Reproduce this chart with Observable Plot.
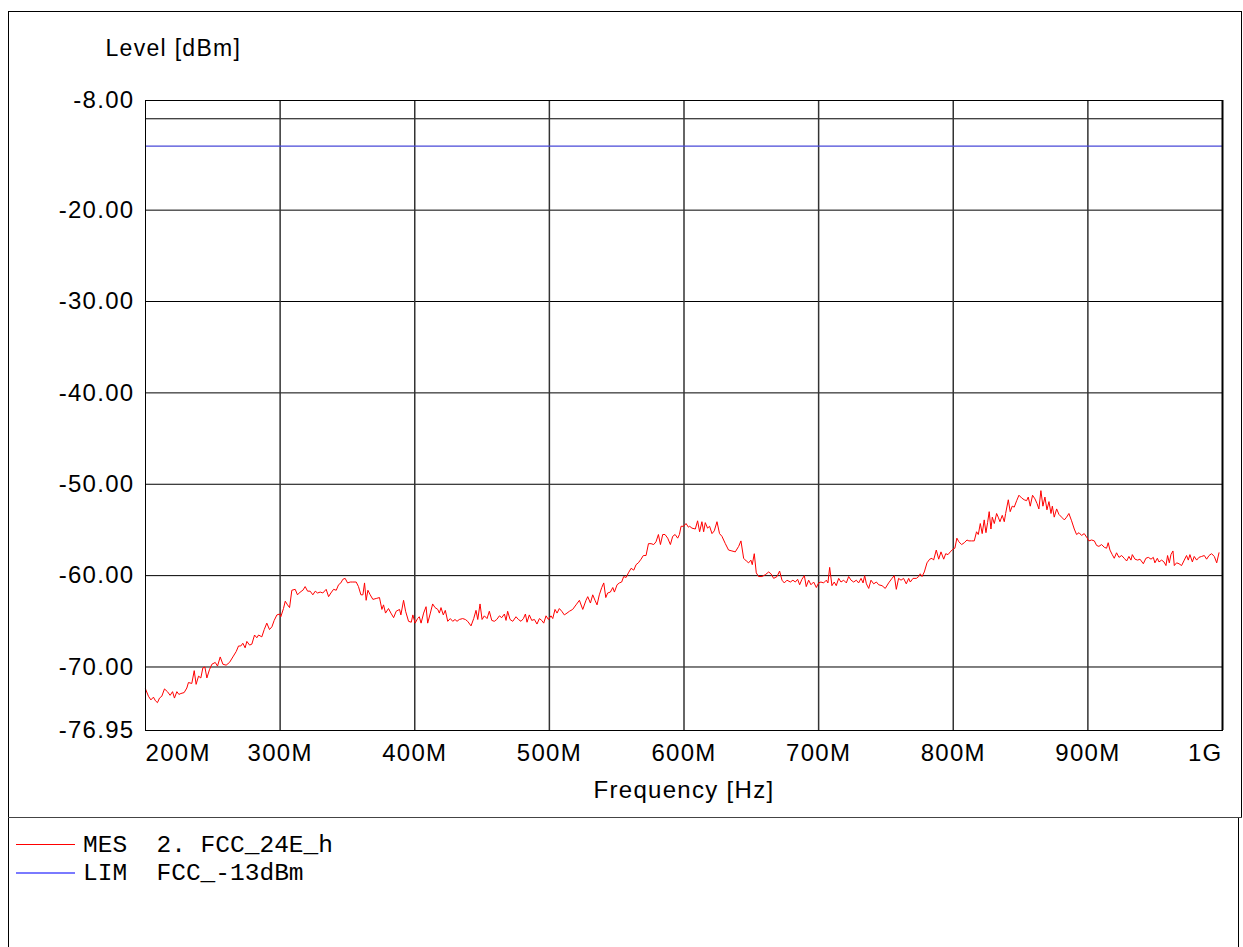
<!DOCTYPE html>
<html>
<head>
<meta charset="utf-8">
<script src="https://cdn.jsdelivr.net/npm/d3@7"></script>
<script src="https://cdn.jsdelivr.net/npm/@observablehq/plot@0.6"></script>
<style>
  html, body { margin: 0; padding: 0; background: #fff; }
  #wrap { position: relative; width: 1243px; height: 947px; overflow: hidden; }
  #chart svg text { letter-spacing: 1.3px; }
  .ln { position: absolute; background: #000; }
  .leg { position: absolute; font-family: "Liberation Mono", "Courier New", monospace; font-size: 24.5px; color: #000; white-space: pre; line-height: 1; }
</style>
</head>
<body>
<div id="wrap">
  <div id="chart"></div>
</div>
<script>
// ---- data (frequency in MHz, level in dBm) ----
const freqMHz = [
200,202.2,204.0,205.9,207.4,208.9,210.4,212.1,214.1,216.3,218.3,220.1,221.5,223.3,224.8,226.3,228.7,230.7,231.9,234.4,
236.2,237.6,239.4,241.1,242.6,244.1,245.6,247.5,249.3,251.8,253.5,255.5,257.5,259.9,262.4,264.9,267.4,269.1,270.8,272.3,
274.0,275.3,277.3,279.0,281.0,282.7,284.0,286.4,288.2,290.1,292.1,293.9,295.6,297.6,299.6,300.5,302.5,303.8,305.5,307.0,
308.7,311.2,312.9,314.9,316.9,318.6,320.4,322.3,324.3,326.1,327.8,329.8,331.7,334.2,336.0,337.7,339.7,341.7,343.4,345.1,
346.6,348.3,350.1,352.1,354.0,356.5,358.2,360.0,361.5,362.7,363.9,365.2,366.9,368.9,371.4,373.8,375.6,376.8,378.3,380.5,
382.3,384.3,386.2,388.7,389.7,391.7,393.2,395.4,397.4,398.6,400.3,402.1,
403.4,404.7,406.6,408.4,409.6,411.6,413.3,415.1,417.1,418.3,419.5,421.2,422.7,424.5,426.4,428.2,429.9,431.4,433.1,435.6,
437.6,439.3,441.8,443.8,445.5,446.8,448.5,450.0,451.7,453.7,455.4,457.2,459.1,460.9,462.9,464.6,466.6,467.8,469.0,470.8,
472.8,475.2,477.0,478.9,480.7,482.2,483.4,485.1,486.9,488.9,490.8,492.6,494.3,495.8,497.5,499.3,501.2,502.5,504.2,505.7,
507.4,509.2,511.1,513.1,514.9,517.3,519.8,522.3,524.8,527.2,528.5,530.5,532.2,533.9,535.4,537.1,538.9,540.4,541.9,543.3,
545.3,547.1,548.3,550.3,552.0,553.7,555.2,557.0,558.7,560.7,562.7,564.4,566.1,568.1,569.8,571.8,573.6,575.5,577.5,579.2,
581.0,582.5,584.2,585.9,587.9,589.9,591.6,593.4,595.3,596.6,597.8,599.8,601.5,603.3,
604.2,605.9,608.4,610.1,611.6,613.3,614.6,615.8,617.5,619.0,620.8,622.5,624.5,626.4,628.2,630.7,633.1,635.6,638.1,640.6,
642.3,644.3,646.3,648.0,649.7,650.7,652.2,653.7,655.4,657.9,660.4,662.9,664.6,666.6,669.1,671.0,672.8,674.5,676.5,679.0,
680.9,682.7,684.4,685.9,687.6,689.4,690.8,692.6,694.3,696.3,698.3,700.0,701.7,703.7,705.7,706.9,708.2,709.9,711.6,713.1,
714.9,716.6,718.6,720.6,722.3,724.1,726.0,728.0,729.7,731.5,733.0,734.2,735.5,737.2,738.9,740.9,742.9,744.6,747.1,749.5,
752.0,754.5,756.2,757.7,759.4,761.2,763.1,765.1,766.9,768.1,770.1,772.6,774.3,775.5,776.8,778.5,780.5,782.5,784.2,785.4,
787.4,789.2,790.9,792.9,794.4,796.1,797.8,799.8,
801.2,802.7,804.2,806.2,808.2,810.2,811.6,813.6,815.6,817.3,818.6,820.1,821.5,823.0,824.3,825.5,826.7,828.0,829.0,830.5,
832.2,833.4,834.7,836.4,837.9,838.9,840.9,842.3,843.8,845.3,847.1,848.8,850.8,852.7,854.5,855.7,857.2,858.9,860.7,862.2,
863.6,865.1,866.6,868.1,869.6,871.1,872.6,873.6,875.0,876.8,878.5,880.5,882.5,884.2,885.9,887.9,889.9,891.6,893.4,895.3,
897.3,899.1,900.8,902.8,904.8,906.5,908.2,910.2,912.2,913.9,915.1,916.4,918.1,919.6,921.3,923.1,925.1,927.0,928.8,930.5,
932.0,933.0,935.0,937.0,938.7,941.2,943.1,944.9,946.9,948.6,949.8,951.6,952.8,954.8,956.5,958.0,959.2,960.5,961.7,963.2,
964.2,965.9,967.7,969.6,971.6,973.3,974.6,975.8,977.6,979.0,980.8,982.5,984.5,986.5,988.2,990.0,991.9,993.9,995.7,997.4
];
const levelDbm = [
-72.4,-73.2,-73.6,-73.3,-73.7,-73.9,-73.4,-73.2,-72.4,-72.7,-73.1,-72.7,-73.4,-72.7,-73.0,-72.9,-72.8,-72.3,-71.7,-71.8,
-70.4,-71.9,-71.0,-71.2,-70.1,-70.0,-71.2,-70.3,-69.7,-69.5,-69.9,-68.9,-69.7,-69.8,-69.5,-68.9,-68.3,-67.7,-67.7,-67.4,
-67.9,-67.2,-67.6,-67.5,-66.5,-66.8,-66.5,-66.7,-65.9,-65.2,-65.9,-65.6,-64.9,-64.3,-64.2,-64.5,-63.6,-62.8,-63.2,-63.5,
-61.6,-61.5,-62.1,-61.8,-61.6,-61.2,-61.7,-61.7,-62.1,-61.7,-61.9,-61.8,-61.9,-61.5,-62.3,-61.9,-61.5,-61.6,-61.0,-60.8,
-60.4,-60.3,-60.8,-60.7,-60.7,-60.7,-61.2,-62.1,-62.1,-60.8,-62.7,-61.6,-62.1,-62.6,-62.5,-62.4,-63.7,-63.2,-64.1,-63.6,
-64.1,-64.6,-63.9,-63.7,-64.3,-62.7,-63.9,-65.0,-65.1,-64.3,-65.2,-64.7,
-64.5,-65.2,-64.1,-63.4,-65.2,-64.1,-63.1,-63.5,-63.7,-64.1,-63.5,-64.3,-63.8,-65.0,-64.7,-65.0,-64.8,-65.0,-64.8,-64.7,
-64.8,-65.0,-65.5,-64.7,-63.8,-64.8,-63.1,-64.8,-64.4,-64.7,-63.9,-64.9,-65.0,-64.8,-64.4,-64.6,-64.2,-64.9,-63.9,-64.8,
-65.0,-64.5,-64.8,-65.0,-64.7,-64.2,-65.1,-64.3,-64.9,-64.8,-65.3,-64.7,-64.9,-65.2,-64.4,-64.8,-64.4,-64.7,-63.7,-64.1,
-63.6,-63.9,-64.3,-64.1,-63.9,-63.7,-63.2,-62.7,-63.7,-62.7,-62.3,-63.0,-62.1,-62.7,-63.2,-62.1,-61.3,-60.8,-62.4,-61.9,
-61.8,-61.3,-61.8,-61.0,-60.8,-60.7,-60.1,-60.2,-59.7,-59.2,-59.4,-58.8,-58.6,-58.2,-57.8,-57.8,-56.5,-56.5,-56.6,-56.3,
-55.5,-56.6,-55.5,-55.5,-55.9,-56.6,-55.7,-55.5,-55.9,-55.5,-54.6,-54.6,-54.3,-54.7,
-54.6,-54.8,-54.9,-54.0,-55.2,-54.1,-55.2,-54.2,-54.8,-54.6,-55.4,-55.1,-54.1,-55.4,-55.7,-56.5,-57.2,-57.3,-57.4,-56.8,
-56.2,-58.1,-58.4,-58.6,-58.3,-58.8,-57.6,-59.7,-60.1,-60.1,-59.9,-59.6,-59.8,-60.3,-60.1,-59.5,-60.5,-60.8,-60.5,-60.7,
-60.5,-60.7,-60.4,-61.0,-60.4,-60.0,-61.2,-60.5,-61.0,-60.7,-61.3,-60.8,-60.7,-60.8,-60.5,-60.8,-59.1,-61.1,-60.7,-61.1,
-60.3,-60.7,-60.5,-60.8,-60.1,-60.5,-60.7,-60.5,-60.8,-60.3,-60.8,-60.0,-60.9,-61.4,-60.5,-60.9,-60.7,-61.0,-61.1,-61.4,
-60.8,-60.3,-60.0,-61.5,-60.3,-60.5,-60.3,-60.9,-60.3,-60.7,-60.3,-60.3,-60.1,-59.8,-60.1,-59.6,-58.6,-58.2,-58.1,-58.3,
-57.2,-58.2,-57.4,-58.2,-57.6,-57.7,-57.4,-57.1,
-57.0,-55.9,-56.3,-56.6,-56.4,-56.1,-56.2,-56.2,-56.2,-55.2,-55.5,-54.3,-55.4,-53.9,-55.3,-54.2,-53.0,-54.9,-53.6,-54.3,
-53.2,-53.6,-54.1,-53.4,-54.1,-53.2,-51.7,-53.0,-52.4,-52.5,-51.8,-51.2,-51.5,-51.7,-51.8,-51.4,-52.4,-51.2,-51.6,-52.1,
-52.7,-50.7,-52.4,-51.4,-52.8,-51.9,-53.2,-52.4,-53.6,-52.7,-53.3,-53.6,-53.9,-53.6,-53.2,-54.0,-54.9,-55.5,-55.3,-55.6,
-55.4,-55.8,-56.2,-56.1,-56.2,-56.7,-56.8,-56.6,-56.9,-57.0,-56.4,-57.2,-57.7,-58.1,-57.5,-58.0,-57.8,-58.1,-58.4,-57.9,
-58.3,-57.7,-58.2,-58.3,-58.2,-58.7,-58.1,-58.0,-58.2,-58.0,-58.6,-58.1,-58.5,-58.3,-58.5,-58.9,-57.8,-58.6,-57.7,-57.3,
-58.9,-58.6,-58.7,-58.9,-58.3,-57.8,-58.3,-57.7,-58.5,-57.9,-58.3,-58.0,-57.9,-57.8,-58.2,-57.8,-57.6,-57.9,-58.6,-57.5
];
const limitLevel = [-13];
const yGridTicks = [-10, -20, -30, -40, -50, -60, -70];
const yLabelTicks = [-8, -20, -30, -40, -50, -60, -70, -76.95];
const xGridTicks = [300, 400, 500, 600, 700, 800, 900];
const xLabelMid = [300, 400, 500, 600, 700, 800, 900];
const xLabelText = {200: "200M", 300: "300M", 400: "400M", 500: "500M", 600: "600M", 700: "700M", 800: "800M", 900: "900M", 1000: "1G"};
const legendEntries = [
  {code: "MES", name: "2. FCC_24E_h", color: "#ff0000"},
  {code: "LIM", name: "FCC_-13dBm", color: "#7a7aff"}
];

const trace = freqMHz.map((f, i) => ({f, v: levelDbm[i]}));

const chart = Plot.plot({
  width: 1243,
  height: 947,
  marginLeft: 145,
  marginRight: 21,
  marginTop: 100,
  marginBottom: 217,
  x: {domain: [200, 1000], axis: null},
  y: {domain: [-76.95, -8], axis: null},
  style: {fontFamily: "'Liberation Sans', Arial, sans-serif", fontSize: "24px", background: "transparent", color: "#000"},
  marks: [
    Plot.ruleY(yGridTicks, {stroke: "#000", strokeWidth: 1}),
    Plot.ruleX(xGridTicks, {stroke: "#333", strokeWidth: 1.5}),
    Plot.ruleY(limitLevel, {stroke: "#4848d8", strokeWidth: 1.2}),
    Plot.line(trace, {x: "f", y: "v", stroke: "#ff0000", strokeWidth: 1}),
    Plot.frame({stroke: "#000", strokeWidth: 1}),
    Plot.ruleX([1000], {stroke: "#000", strokeWidth: 2}),
    Plot.text(yLabelTicks, {y: d => d, frameAnchor: "left", text: d => d.toFixed(2), textAnchor: "end", lineAnchor: "middle", dx: -11, fontSize: 24, fill: "#000"}),
    Plot.text([200], {x: d => d, frameAnchor: "bottom", text: d => xLabelText[d], textAnchor: "start", lineAnchor: "middle", dy: 23, fontSize: 24, fill: "#000"}),
    Plot.text(xLabelMid, {x: d => d, frameAnchor: "bottom", text: d => xLabelText[d], textAnchor: "middle", lineAnchor: "middle", dy: 23, fontSize: 24, fill: "#000"}),
    Plot.text([1000], {x: d => d, frameAnchor: "bottom", text: d => xLabelText[d], textAnchor: "end", lineAnchor: "middle", dy: 23, fontSize: 24, fill: "#000"}),
    Plot.text(["Frequency [Hz]"], {frameAnchor: "bottom", text: d => d, lineAnchor: "middle", dy: 60, fontSize: 24, fill: "#000"}),
    Plot.text(["Level [dBm]"], {frameAnchor: "top-left", text: d => d, textAnchor: "start", lineAnchor: "middle", dx: -40, dy: -52, fontSize: 23, fill: "#000"})
  ]
});
document.getElementById("chart").appendChild(chart);

// outer frame, separator and legend
const wrap = document.getElementById("wrap");
function line(l, t, w, h, color) {
  const d = document.createElement("div");
  d.className = "ln";
  d.style.left = l + "px"; d.style.top = t + "px"; d.style.width = w + "px"; d.style.height = h + "px";
  if (color) d.style.background = color;
  wrap.appendChild(d);
}
line(8, 11, 1234, 1);      // top
line(8, 11, 1, 936);       // left
line(1241, 11, 1, 807);    // right upper
line(8, 817, 1234, 1, "#444"); // separator
line(1238, 818, 1, 129);   // right lower

legendEntries.forEach((e, i) => {
  const y = 844 + i * 28;
  line(16, y, 59, i === 1 ? 2 : 1, e.color);
  const t = document.createElement("div");
  t.className = "leg";
  t.style.left = "83px";
  t.style.top = (y - 10) + "px";
  t.textContent = e.code + "  " + e.name;
  wrap.appendChild(t);
});
</script>
</body>
</html>
